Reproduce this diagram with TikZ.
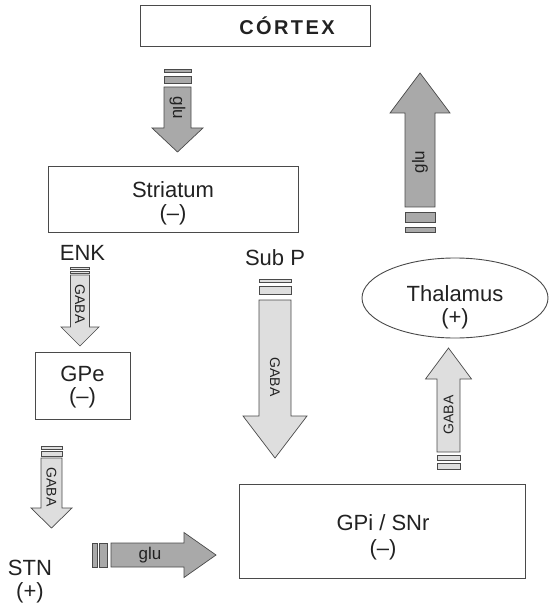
\documentclass[tikz,border=0pt]{standalone}
\usepackage{fontspec}
\setmainfont{Liberation Sans}
\newfontfamily\cortexfont{Liberation Sans}[LetterSpace=12.0]
\usetikzlibrary{shapes.geometric}
\definecolor{darkfill}{HTML}{A9A9A9}
\definecolor{lightfill}{HTML}{DEDEDE}
\definecolor{edge}{HTML}{4A4A4A}
\definecolor{ink}{HTML}{222222}
\tikzset{
  box/.style={draw=edge, line width=0.9pt, fill=white, inner sep=0pt},
  darr/.style={draw=edge, line width=0.7pt, fill=darkfill},
  larr/.style={draw=edge, line width=0.7pt, fill=lightfill},
  big/.style={font=\fontsize{22}{26}\selectfont, anchor=base, inner sep=0pt, text=ink},
  glutext/.style={font=\fontsize{17}{20}\selectfont, inner sep=0pt, text=ink},
  gabatext/.style={font=\fontsize{14}{16}\selectfont, inner sep=0pt, text=ink},
}
\begin{document}
\begin{tikzpicture}[x=1pt,y=-1pt]
\useasboundingbox (0,0) rectangle (551,609);

% boxes
\node[box, minimum width=230pt, minimum height=41pt] (cortex) at (255,25.5) {};
\node[box, minimum width=250pt, minimum height=66pt] (striatum) at (173,199) {};
\node[box, minimum width=95pt, minimum height=67pt] (gpe) at (82.5,385.5) {};
\node[box, minimum width=286pt, minimum height=94pt] (gpi) at (382,531) {};
\node[box, ellipse, minimum width=186pt, minimum height=80pt] (thal) at (455,298) {};

% texts
\node[big, font=\cortexfont\bfseries\fontsize{20}{24}\selectfont] (cortext) at (287,35) {CÓRTEX};
\node[big] (strt) at (173,197.3) {Striatum};
\node[big] (strs) at (173,220.5) {(–)};
\node[big] (gpet) at (82.5,381.7) {GPe};
\node[big] (gpes) at (82.5,403.5) {(–)};
\node[big] (gpit) at (383,530.7) {GPi / SNr};
\node[big] (gpis) at (383,555) {(–)};
\node[big] (thalt) at (455,301.5) {Thalamus};
\node[big] (thals) at (455,324) {(+)};
\node[big] (enk) at (82.5,260) {ENK};
\node[big] (subp) at (275,265) {Sub P};
\node[big] (stn) at (30,575) {STN};
\node[big] (stns) at (30,598) {(+)};

% cortex -> striatum (glu)
\draw[darr] (164,69) rectangle (191,72.5);
\draw[darr] (164,76) rectangle (191,83.5);
\draw[darr] (164,87) -- (191,87) -- (191,128) -- (203,128) -- (177.5,152) -- (152,128) -- (164,128) -- cycle;
\node[glutext, rotate=-90] (glu1) at (177.5,108) {glu};

% ENK GABA
\draw[larr] (70.5,267.5) rectangle (89.5,269.5);
\draw[larr] (70.5,271) rectangle (89.5,273.5);
\draw[larr] (70.5,275) -- (89.5,275) -- (89.5,327) -- (99,327) -- (80,346) -- (61,327) -- (70.5,327) -- cycle;
\node[gabatext, rotate=-90] (gaba1) at (80,304) {GABA};

% Sub P GABA
\draw[larr] (259,279) rectangle (291,282.5);
\draw[larr] (259,286) rectangle (291,294);
\draw[larr] (259,300) -- (291,300) -- (291,416) -- (307,416) -- (275,458) -- (243,416) -- (259,416) -- cycle;
\node[gabatext, rotate=-90] (gaba2) at (275,377) {GABA};

% GPe -> STN GABA
\draw[larr] (41,446.5) rectangle (62,449);
\draw[larr] (41,451) rectangle (62,456.5);
\draw[larr] (41,458) -- (62,458) -- (62,508) -- (72,508) -- (51.5,528) -- (31,508) -- (41,508) -- cycle;
\node[gabatext, rotate=-90] (gaba3) at (51.5,487) {GABA};

% STN -> GPi glu
\draw[darr] (92,543) rectangle (97,567);
\draw[darr] (99,543) rectangle (107,567);
\draw[darr] (111,543) -- (184,543) -- (184,532.5) -- (216,555) -- (184,577.5) -- (184,567) -- (111,567) -- cycle;
\node[glutext] (glu2) at (150,555) {glu};

% GPi -> Thalamus GABA
\draw[larr] (437,455) rectangle (460,460);
\draw[larr] (437,463) rectangle (460,469);
\draw[larr] (437,452) -- (460,452) -- (460,379) -- (471.5,379) -- (448.5,348) -- (425.5,379) -- (437,379) -- cycle;
\node[gabatext, rotate=90] (gaba4) at (448.5,415) {GABA};

% Thalamus -> cortex glu
\draw[darr] (405,212) rectangle (435,222);
\draw[darr] (405,227) rectangle (435,232);
\draw[darr] (405,207) -- (435,207) -- (435,113) -- (450,113) -- (420,73) -- (390,113) -- (405,113) -- cycle;
\node[glutext, rotate=90] (glu3) at (420,162) {glu};
\end{tikzpicture}
\end{document}
